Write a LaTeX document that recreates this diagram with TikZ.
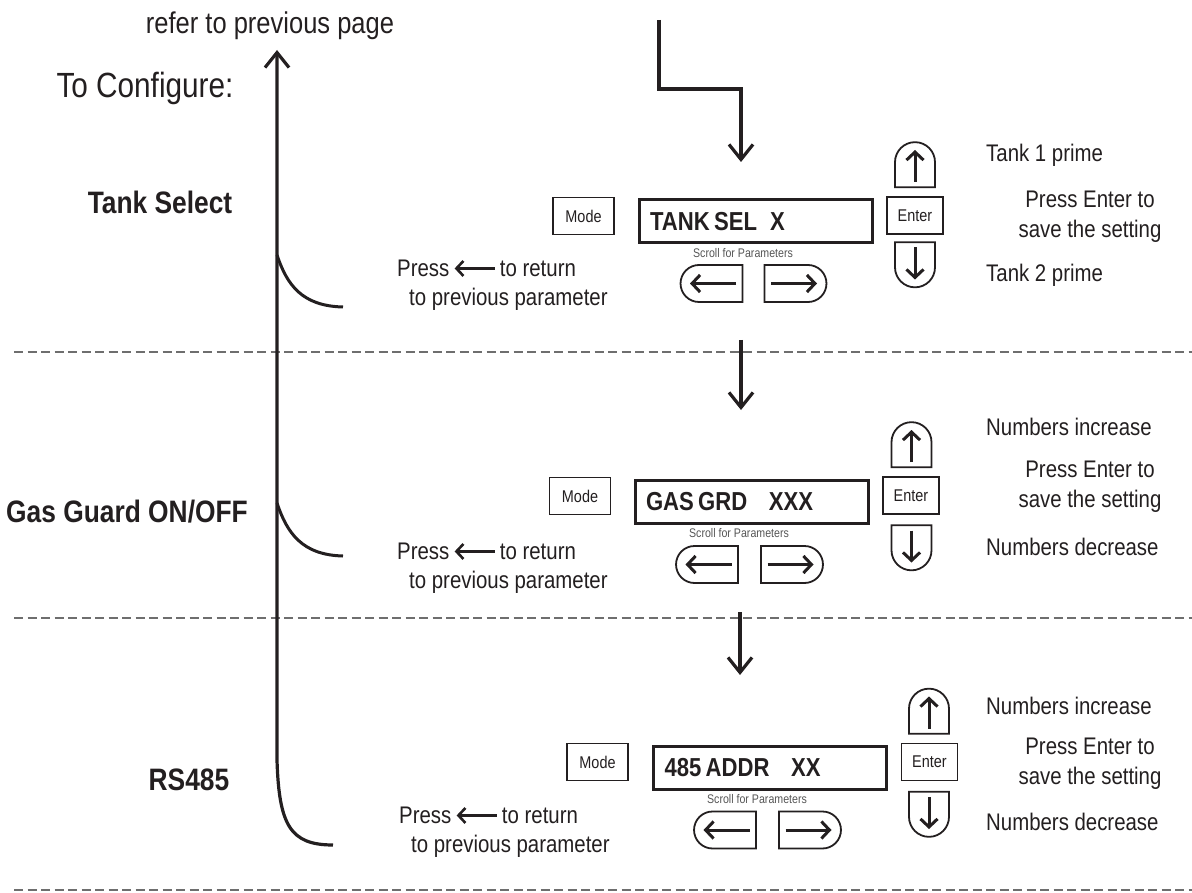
\documentclass[tikz,border=0pt]{standalone}
\usepackage{fontspec}
\setmainfont{Liberation Sans}[FakeStretch=0.85]
\usepackage{tikz}
\usetikzlibrary{positioning,arrows.meta,shapes.misc}
\definecolor{colorink}    {RGB}{ 35, 31, 32}
\definecolor{colordash}   {RGB}{110,110,110}
\definecolor{colorscroll} {RGB}{ 85, 85, 85}

\newcommand{\keyarrow}[1]{\tikz\draw[line width=3pt,-{Straight Barb[length=8pt,width=17pt]}] (0pt,0pt) -- (#1,0pt);}
\newcommand{\backarrow}{\tikz[baseline=-0.33em]\draw[line width=2.6pt,{Straight Barb[length=7pt,width=15pt]}-] (0pt,0pt) -- (40pt,0pt);}

\begin{document}
\begin{tikzpicture}[
    x=1pt, y=-1pt,
    font={\fontsize{24}{29}\selectfont}, text=colorink,
    flow/.style={draw=colorink,line width=3.2pt,-{Straight Barb[length=15pt,width=24pt]}},
    hook/.style={draw=colorink,line width=3pt},
    sep/.style={draw=colordash,line width=1.2pt,dash pattern=on 9pt off 4.5pt},
    lcd/.style={draw=colorink,line width=3pt,minimum width=233pt,minimum height=43pt,inner xsep=11pt,text width=211pt,align=left,font={\fontsize{26}{29}\selectfont\bfseries}},
    btn/.style={draw=colorink,line width=1.6pt,minimum width=#1,minimum height=37pt,inner sep=0pt,font={\fontsize{17}{20}\selectfont}},
    keyh/.style={rounded rectangle,rounded rectangle west arc=none,draw=colorink,line width=1.8pt,minimum width=62pt,minimum height=37pt,inner sep=0pt},
    keyv/.style={keyh,minimum width=45pt,minimum height=40pt},
    scroll/.style={font={\fontsize{12.5}{14}\selectfont},text=colorscroll,inner sep=0pt},
    hint/.style={inner sep=0pt,anchor=west},
    note/.style={inner sep=0pt,align=center,font={\fontsize{24}{30}\selectfont}},
    back/.style={inner sep=0pt,align=left,anchor=west},
    title/.style={inner sep=0pt,font={\fontsize{31}{36}\selectfont\bfseries}},
]
    \useasboundingbox (0,0) rectangle (1192,893);

    \node[inner sep=0pt,font={\fontsize{30}{34}\selectfont}] (refer) at (270,26) {refer to previous page};
    \node[inner sep=0pt,font={\fontsize{35}{40}\selectfont}] (configure) at (145,88) {To Configure:};

    % tank select
    \node[title] (tank) at (160,202) {Tank Select};
    \node[btn=61pt] (mode1) at (583.5,216) {Mode};
    \node[lcd] (disp1) at (755.5,221.5) {TANK\,SEL\ \,X};
    \node[scroll] (scroll1) at (743,253) {Scroll for Parameters};
    \node[keyh,rotate=180] (prev1) at (713,283.5) {\keyarrow{46pt}};
    \node[keyh] (next1) at (794,283.5) {\keyarrow{46pt}};
    \node[btn=56pt] (enter1) at (915,215.5) {Enter};
    \node[keyv,rotate=90] (up1) at (915,166) {\keyarrow{32pt}};
    \node[keyv,rotate=-90] (down1) at (915,263.5) {\keyarrow{32pt}};
    \node[hint] (upnote1) at (986,155) {Tank 1 prime};
    \node[note] (save1) at (1090,217) {Press Enter to\\save the setting};
    \node[hint] (downnote1) at (986,275) {Tank 2 prime};
    \node[back] (return1) at (397,285) {Press\,\backarrow\,to return\\\hspace*{12pt}to previous parameter};

    % gas guard
    \node[title] (gas) at (127,512) {Gas Guard ON/OFF};
    \node[btn=61pt] (mode2) at (580,496) {Mode};
    \node[lcd] (disp2) at (751.5,502) {GAS\,GRD\ \ \,XXX};
    \node[scroll] (scroll2) at (739,533) {Scroll for Parameters};
    \node[keyh,rotate=180] (prev2) at (708.5,564.5) {\keyarrow{46pt}};
    \node[keyh] (next2) at (790.5,564.5) {\keyarrow{46pt}};
    \node[btn=56pt] (enter2) at (911,495.5) {Enter};
    \node[keyv,rotate=90] (up2) at (911.5,446) {\keyarrow{32pt}};
    \node[keyv,rotate=-90] (down2) at (911.5,546.5) {\keyarrow{32pt}};
    \node[hint] (upnote2) at (986,427) {Numbers increase};
    \node[note] (save2) at (1090,487) {Press Enter to\\save the setting};
    \node[hint] (downnote2) at (986,547) {Numbers decrease};
    \node[back] (return2) at (397,568) {Press\,\backarrow\,to return\\\hspace*{12pt}to previous parameter};

    % rs485
    \node[title] (rs) at (189,780) {RS485};
    \node[btn=61pt] (mode3) at (597.5,762) {Mode};
    \node[lcd] (disp3) at (770,767.5) {485\,ADDR\ \ \,XX};
    \node[scroll] (scroll3) at (757,799) {Scroll for Parameters};
    \node[keyh,rotate=180] (prev3) at (726.5,830) {\keyarrow{46pt}};
    \node[keyh] (next3) at (808.5,830) {\keyarrow{46pt}};
    \node[btn=56pt] (enter3) at (929.5,762) {Enter};
    \node[keyv,rotate=90] (up3) at (929,712.5) {\keyarrow{32pt}};
    \node[keyv,rotate=-90] (down3) at (929,813) {\keyarrow{32pt}};
    \node[hint] (upnote3) at (986,706) {Numbers increase};
    \node[note] (save3) at (1090,764) {Press Enter to\\save the setting};
    \node[hint] (downnote3) at (986,822) {Numbers decrease};
    \node[back] (return3) at (399,832) {Press\,\backarrow\,to return\\\hspace*{12pt}to previous parameter};

    \coordinate (src)  at (659,20);
    \coordinate (in1)  at (741,162);
    \coordinate (out1) at (741,340);
    \coordinate (in2)  at (741,410);
    \coordinate (out2) at (740,612);
    \coordinate (in3)  at (740,675);
    \coordinate (prevpage) at (277,50);
    \coordinate (h1a) at (277,255);
    \coordinate (h1b) at (343,307);
    \coordinate (h2a) at (277,503);
    \coordinate (h2b) at (343,556);
    \coordinate (h3b) at (333,845);

    \draw[sep] (14,352) coordinate (sepl1) -- (1192,352) coordinate (sepr1);
    \draw[sep] (14,618) coordinate (sepl2) -- (1192,618) coordinate (sepr2);
    \draw[sep] (14,890) coordinate (sepl3) -- (1192,890) coordinate (sepr3);

    \draw[flow] (src) -- ++(0,69) -| (in1);
    \draw[flow] (out1) -- (in2);
    \draw[flow] (out2) -- (in3);

    \draw[flow] (h3b) .. controls (290,845) and (279,825) .. (277,760) -- (prevpage);
    \draw[hook] (h1a) .. controls (287,285) and (302,306) .. (h1b);
    \draw[hook] (h2a) .. controls (287,533) and (302,555) .. (h2b);

\end{tikzpicture}
\end{document}
